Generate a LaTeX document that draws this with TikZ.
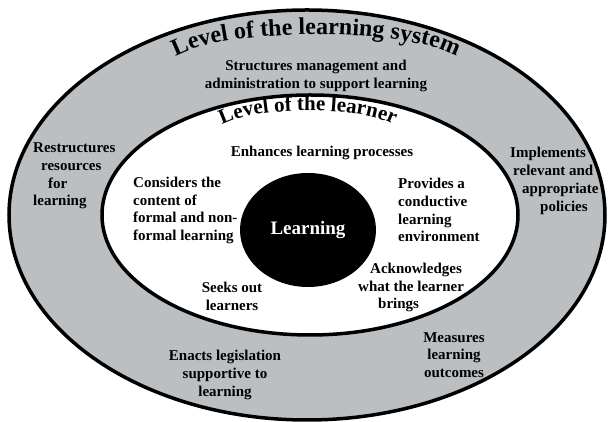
\documentclass[tikz,border=0pt]{standalone}
\usepackage{fontspec}
\setmainfont{Liberation Serif}
\usetikzlibrary{decorations.text,shapes.geometric}
\definecolor{ringgray}{RGB}{188,191,193}
\begin{document}
\begin{tikzpicture}[x=1pt,y=1pt,
  lbl/.style={font=\fontsize{15}{17.8}\selectfont\bfseries, inner sep=0pt, align=center},
  lbll/.style={lbl, align=left, anchor=west},
  ringline/.style={draw=black, line width=3.5pt}]
\useasboundingbox (0,0) rectangle (614,422);
\fill[white] (0,0) rectangle (614,422);
% rings
\path[ringline, fill=ringgray] (307,207) ellipse [x radius=298, y radius=205];
\path[ringline, fill=white] (310,207) ellipse [x radius=208, y radius=120];
\node[ellipse, fill=black, minimum width=136pt, minimum height=114pt, inner sep=0pt,
      text=white, font=\fontsize{19}{19}\selectfont\bfseries] (core) at (308,192) {Learning};
% curved titles
\coordinate (systitlec) at (316,353.5);
\coordinate (lrntitlec) at (308,286.5);
\path[decoration={text along path, text align=center,
      text={|\fontsize{24}{24}\selectfont\bfseries|Level of the learning system}}, decorate]
  (systitlec) ++(180:150 and 34) arc[start angle=180, end angle=0, x radius=150, y radius=34];
\path[decoration={text along path, text align=center,
      text={|\fontsize{21}{21}\selectfont\bfseries|Level of the learner}}, decorate]
  (lrntitlec) ++(180:95 and 25) arc[start angle=180, end angle=0, x radius=95, y radius=25];
% outer ring texts
\node[lbl] (sysa) at (316,346) {Structures management and\\administration to support learning};
\node[lbll] (sysb) at (33,246) {Restructures\\\hspace*{8pt}resources\\\hspace*{15pt}for\\learning};
\node[lbll] (sysc) at (510,241) {Implements\\\hspace*{3pt}relevant and\\\hspace*{12pt}appropriate\\\hspace*{30pt}policies};
\node[lbl] (sysd) at (225,47) {Enacts legislation\\supportive to\\learning};
\node[lbl] (syse) at (454,67) {Measures\\learning\\outcomes};
% inner ring texts
\node[lbl] (lra) at (322,269) {Enhances learning processes};
\node[lbll] (lrb) at (133,211.5) {Considers the\\content of\\formal and non-\\formal learning};
\node[lbll] (lrc) at (398,212) {Provides a\\conductive\\learning\\environment};
\node[lbll] (lrd) at (358,134.5) {\hspace*{12pt}Acknowledges\\what the learner\\\hspace*{20pt}brings};
\node[lbl] (lre) at (232,126) {Seeks out\\learners};
\end{tikzpicture}
\end{document}
